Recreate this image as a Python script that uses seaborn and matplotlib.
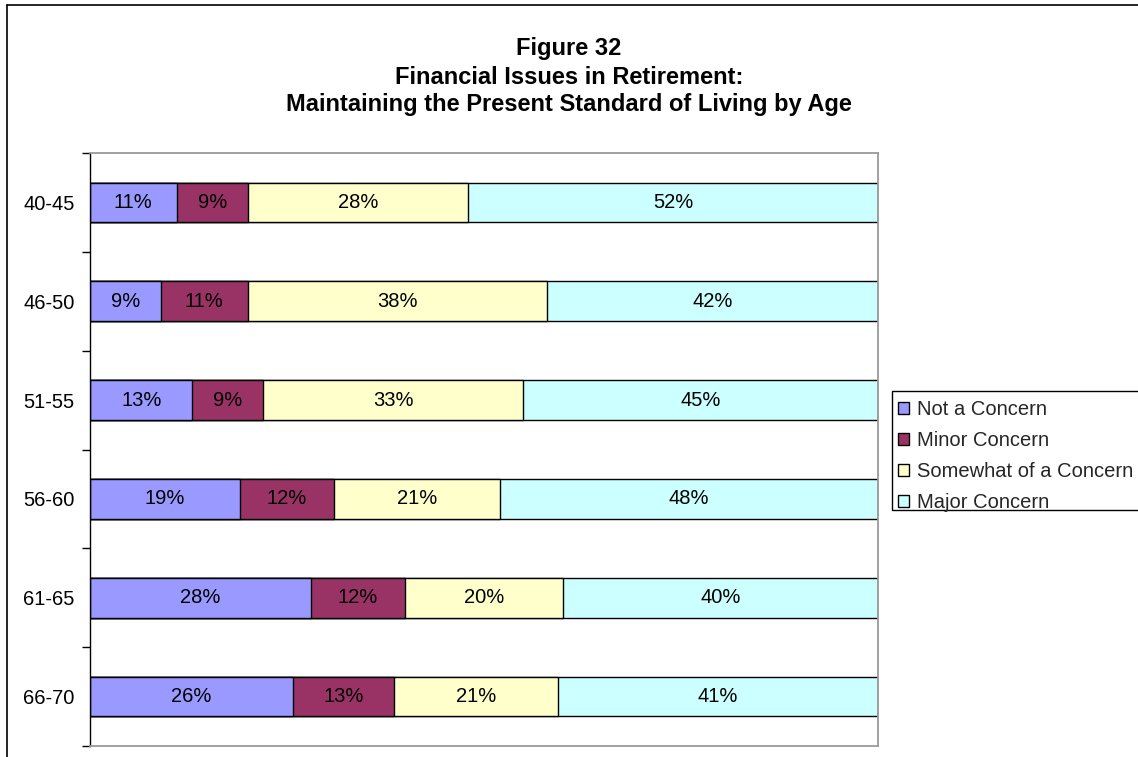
import numpy as np
import pandas as pd
import seaborn as sns
import matplotlib.pyplot as plt
from matplotlib.patches import Rectangle
from matplotlib.lines import Line2D
from matplotlib.ticker import FixedLocator

# ---- data ----
ages = ["40-45", "46-50", "51-55", "56-60", "61-65", "66-70"]
series = ["Not a Concern", "Minor Concern", "Somewhat of a Concern", "Major Concern"]
not_a_concern = [11, 9, 13, 19, 28, 26]
minor_concern = [9, 11, 9, 12, 12, 13]
somewhat_concern = [28, 38, 33, 21, 20, 21]
major_concern = [52, 42, 45, 48, 40, 41]
colors = ["#9999FF", "#993366", "#FFFFCC", "#CCFFFF"]
title_lines = ["Figure 32",
               "Financial Issues in Retirement:",
               "Maintaining the Present Standard of Living by Age"]

sns.set_theme(style="white")
plt.rcParams['font.family'] = ['Liberation Sans', 'DejaVu Sans']

df = pd.DataFrame({"Age": ages,
                   series[0]: not_a_concern,
                   series[1]: minor_concern,
                   series[2]: somewhat_concern,
                   series[3]: major_concern})
vals = df[series].to_numpy(float)
share = vals / vals.sum(axis=1, keepdims=True) * 100  # 100% stacked
cum = share.cumsum(axis=1)

W, H = 1138, 757
fig = plt.figure(figsize=(W / 100, H / 100), dpi=100)
ax = fig.add_axes([90 / W, 1 - 746 / H, 788 / W, 593 / H])

for i in reversed(range(len(series))):
    sns.barplot(x=cum[:, i], y=df["Age"], orient="h", color=colors[i],
                width=0.4, edgecolor="black", linewidth=1, saturation=1,
                ax=ax)

FS = 14.5
for r in range(len(ages)):
    for i in range(len(series)):
        left = cum[r, i] - share[r, i]
        ax.text(left + share[r, i] / 2, r, f"{int(vals[r, i])}%",
                ha="center", va="center", fontsize=FS, color="black")

ax.set_xlim(0, 100)
ax.set_ylim(len(ages) - 0.5, -0.5)
ax.set_xticks([])
ax.set_xlabel("")
ax.set_ylabel("")
ax.tick_params(axis="y", which="major", length=0, pad=11, labelsize=FS,
               labelcolor="black")
ax.yaxis.set_minor_locator(FixedLocator(np.arange(-0.5, len(ages), 1.0)))
ax.tick_params(axis="y", which="minor", left=True, length=6, width=1,
               color="black", direction="out")

for s in ["top", "right", "bottom"]:
    ax.spines[s].set_color("#9a9a9a")
    ax.spines[s].set_linewidth(1.3)
ax.spines["left"].set_color("black")
ax.spines["left"].set_linewidth(1)

# legend frame (drawn separately for exact placement)
fig.add_artist(Rectangle((892 / W, 1 - 510 / H), (W + 5 - 892) / W, 119 / H,
                         transform=fig.transFigure, facecolor="white",
                         edgecolor="black", linewidth=1, zorder=2))
handles = [Rectangle((0, 0), 1, 1, facecolor=c, edgecolor="black", linewidth=1)
           for c in colors]
fpx = FS * 100 / 72
leg = fig.legend(handles, series, loc="upper left",
                 bbox_to_anchor=(898 / W, 1 - 400 / H),
                 bbox_transform=fig.transFigure, borderaxespad=0,
                 frameon=False, fontsize=FS,
                 handlelength=11 / fpx, handleheight=11 / fpx,
                 handletextpad=8 / fpx, borderpad=0, labelspacing=0.6)
leg.set_zorder(3)

# title
for y, t in zip([49, 77, 105], title_lines):
    fig.text(569 / W, 1 - y / H, t, ha="center", va="center",
             fontsize=17, fontweight="bold", color="black")

# outer chart border (left and top visible)
fig.add_artist(Line2D([7 / W, 7 / W], [0, 1 - 5 / H], color="black", lw=1.2,
                      transform=fig.transFigure))
fig.add_artist(Line2D([7 / W, 1], [1 - 5 / H, 1 - 5 / H], color="black",
                      lw=1.2, transform=fig.transFigure))

fig.savefig("out.png", dpi=100, facecolor="white")
